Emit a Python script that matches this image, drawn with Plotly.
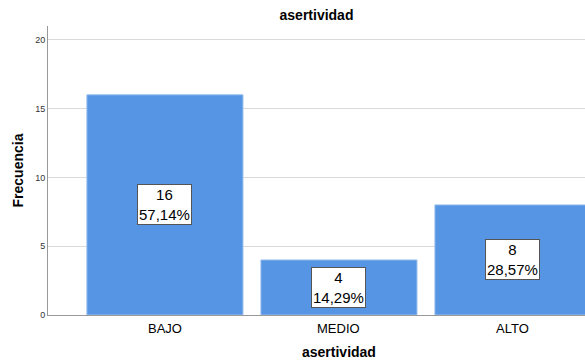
import plotly.graph_objects as go

categories = ["BAJO", "MEDIO", "ALTO"]
counts = [16, 4, 8]
percents = ["57,14%", "14,29%", "28,57%"]
y_ticks = [0, 5, 10, 15, 20]

FONT = "Liberation Sans, Arial, sans-serif"
BAR_COLOR = "#5595E3"

x_pos = list(range(len(categories)))

fig = go.Figure()
fig.add_trace(go.Bar(
    x=x_pos,
    y=counts,
    width=0.897,
    marker=dict(color=BAR_COLOR, line=dict(color="#9CC0EE", width=1)),
    hoverinfo="skip",
))

# Boxed count / percent labels in the middle of each bar
for xi, c, p in zip(x_pos, counts, percents):
    fig.add_annotation(
        x=xi, y=c / 2, xref="x", yref="y",
        text=f"{c}<br>{p}",
        showarrow=False,
        font=dict(family=FONT, size=15, color="#000000"),
        bgcolor="#FFFFFF",
        bordercolor="#555555",
        borderwidth=1,
        borderpad=1,
        align="center",
    )

# Category labels under the axis
for xi, cat in zip(x_pos, categories):
    fig.add_annotation(
        x=xi, y=0, xref="x", yref="y",
        text=cat, showarrow=False,
        yanchor="top", yshift=-4,
        font=dict(family=FONT, size=13, color="#000000"),
    )

# Axis title for the categories
fig.add_annotation(
    x=1, y=0, xref="x", yref="paper",
    text="<b>asertividad</b>", showarrow=False,
    yanchor="top", yshift=-27,
    font=dict(family=FONT, size=14, color="#000000"),
)

fig.update_layout(
    width=585, height=362,
    margin=dict(l=48, r=0, t=26, b=47),
    paper_bgcolor="#FFFFFF",
    plot_bgcolor="#FFFFFF",
    showlegend=False,
    title=dict(
        text="<b>asertividad</b>",
        x=(48 + 585) / 2 / 585, xanchor="center",
        y=1 - 15 / 362, yanchor="middle",
        font=dict(family=FONT, size=14, color="#000000"),
    ),
    xaxis=dict(
        range=[-0.672, 2.414],
        showticklabels=False,
        showgrid=False,
        zeroline=False,
        showline=True, linecolor="#999999", linewidth=1,
        ticks="",
        fixedrange=True,
    ),
    yaxis=dict(
        range=[0, 21],
        tickvals=y_ticks,
        ticktext=[str(v) for v in y_ticks],
        tickfont=dict(family=FONT, size=9, color="#333333"),
        ticks="", ticklen=0,
        showgrid=True, gridcolor="#D9D9D9", gridwidth=1,
        zeroline=False,
        showline=True, linecolor="#999999", linewidth=1,
        title=dict(text="<b>Frecuencia</b>",
                   font=dict(family=FONT, size=14, color="#000000"),
                   standoff=8),
        fixedrange=True,
    ),
)

fig.write_html("out.html")
